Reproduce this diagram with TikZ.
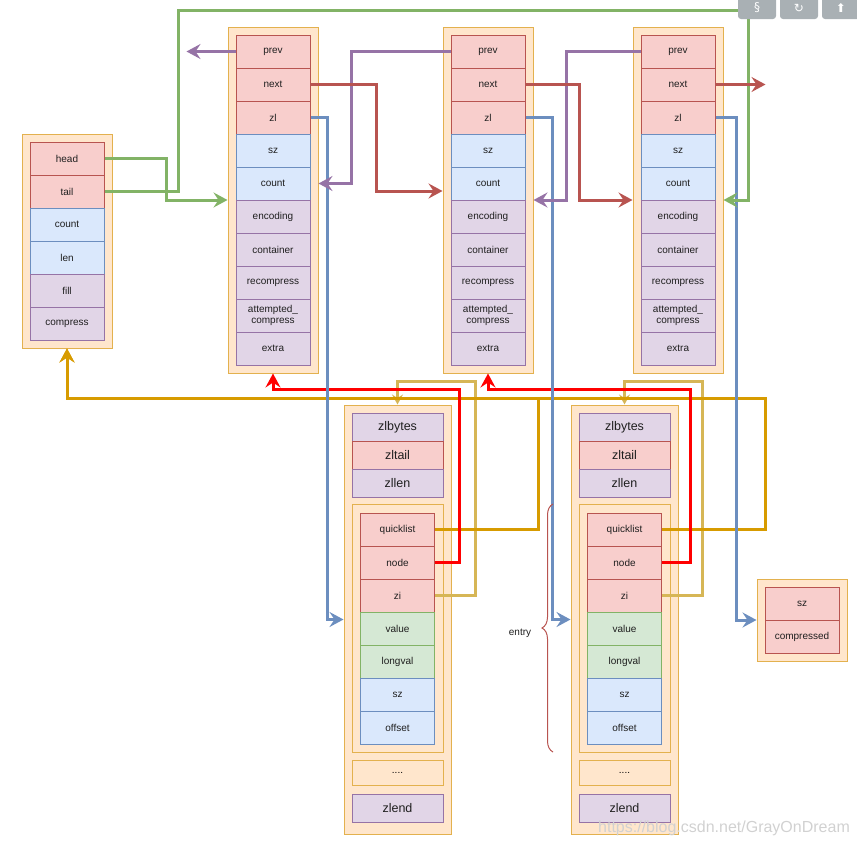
\documentclass[tikz,border=0pt]{standalone}
\usepackage{fontspec}
\setmainfont{Liberation Sans}
\newfontfamily\dejavu{DejaVu Sans}
\usetikzlibrary{arrows.meta,calc,decorations.pathreplacing}
\definecolor{pinkF}{HTML}{F8CECC}\definecolor{pinkS}{HTML}{B85450}
\definecolor{blueF}{HTML}{DAE8FC}\definecolor{blueS}{HTML}{6C8EBF}
\definecolor{purF}{HTML}{E1D5E7}\definecolor{purS}{HTML}{9673A6}
\definecolor{grnF}{HTML}{D5E8D4}\definecolor{grnS}{HTML}{82B366}
\definecolor{orF}{HTML}{FFE6CC}\definecolor{orS}{HTML}{E3B14E}
\definecolor{goldc}{HTML}{D79B00}\definecolor{lgold}{HTML}{D6B656}
\definecolor{redc}{HTML}{FF0000}\definecolor{uigray}{HTML}{A9B0B4}
\tikzset{
  cell/.style={draw, line width=1pt, minimum width=74pt, minimum height=33pt, inner sep=0pt,
    font=\fontsize{10}{11.5}\selectfont, align=center, text=black!88},
  bigcell/.style={cell, minimum width=91pt, minimum height=28pt, font=\fontsize{12.5}{14}\selectfont},
  outerbox/.style={draw=orS, fill=orF, line width=1pt, inner sep=0pt},
  conn/.style={line width=3pt, -{Stealth[length=14pt,width=15pt,inset=5pt]}},
  connsm/.style={line width=3pt, -{Stealth[length=10pt,width=11pt,inset=3.5pt]}},
  uibtn/.style={fill=uigray, rounded corners=3pt, minimum width=38pt, minimum height=30pt, inner sep=0pt},
  uitxt/.style={text=white, inner sep=0pt, font=\dejavu\fontsize{12}{12}\selectfont}
}
\begin{document}
\begin{tikzpicture}[x=1pt,y=-1pt]
\useasboundingbox (0,0) rectangle (857,846);
% quicklist
\node[outerbox, minimum width=90pt, minimum height=214pt] (q) at (67,241) {};
\foreach \k/\lab/\fc/\sc [count=\i from 0] in {head/head/pinkF/pinkS, tail/tail/pinkF/pinkS,
   count/count/blueF/blueS, len/len/blueF/blueS, fill/fill/purF/purS, compress/compress/purF/purS}
  \node[cell, fill=\fc, draw=\sc] (q-\k) at (67,158.5+33*\i) {\lab};
% quicklist nodes
\foreach \nm/\xc in {n1/273, n2/488, n3/678}{
  \node[outerbox, minimum width=90pt, minimum height=346pt] (\nm) at (\xc,200) {};
  \foreach \k/\lab/\fc/\sc [count=\i from 0] in {prev/prev/pinkF/pinkS, next/next/pinkF/pinkS,
     zl/zl/pinkF/pinkS, sz/sz/blueF/blueS, count/count/blueF/blueS, encoding/encoding/purF/purS,
     container/container/purF/purS, recompress/recompress/purF/purS,
     att/{attempted\_\\compress}/purF/purS, extra/extra/purF/purS}
    \node[cell, fill=\fc, draw=\sc] (\nm-\k) at (\xc,51.5+33*\i) {\lab};
}
% ziplists
\foreach \zn/\xc in {z1/397.5, z2/624.5}{
  \node[outerbox, minimum width=107pt, minimum height=429pt] (\zn) at (\xc,619.5) {};
  \node[bigcell, fill=purF, draw=purS] (\zn-zlbytes) at (\xc,427) {zlbytes};
  \node[bigcell, fill=pinkF, draw=pinkS] (\zn-zltail) at (\xc,455) {zltail};
  \node[bigcell, fill=purF, draw=purS] (\zn-zllen) at (\xc,483) {zllen};
  \node[outerbox, minimum width=91pt, minimum height=248pt] (\zn-entry) at (\xc,628) {};
  \foreach \k/\lab/\fc/\sc [count=\i from 0] in {ql/quicklist/pinkF/pinkS, node/node/pinkF/pinkS,
     zi/zi/pinkF/pinkS, value/value/grnF/grnS, longval/longval/grnF/grnS,
     sz/sz/blueF/blueS, offset/offset/blueF/blueS}
    \node[cell, fill=\fc, draw=\sc] (\zn-\k) at (\xc,529.5+33*\i) {\lab};
  \node[outerbox, minimum width=91pt, minimum height=25pt, font=\fontsize{10}{11}\selectfont] (\zn-dots) at (\xc,772.5) {....};
  \node[bigcell, fill=purF, draw=purS] (\zn-zlend) at (\xc,808) {zlend};
}
% compressed
\node[outerbox, minimum width=90pt, minimum height=82pt] (cb) at (802,620) {};
\node[cell, fill=pinkF, draw=pinkS] (cb-sz) at (802,603.5) {sz};
\node[cell, fill=pinkF, draw=pinkS] (cb-comp) at (802,636.5) {compressed};
% bends
\coordinate (gtop) at (748,10);
\coordinate (r1) at (459,389);
\coordinate (r2) at (690,389);
\coordinate (y1) at (538,398);
\coordinate (y2) at (765,398);
\coordinate (lg1) at (475,381);
\coordinate (lg2) at (702,381);
% light gold
\draw[connsm, lgold] (z1-zi.east) -| (lg1) -| (z1.north);
\draw[connsm, lgold] (z2-zi.east) -| (lg2) -| (z2.north);
% gold
\draw[conn, goldc] (z1-ql.east) -| (y1) -| (q.south);
\draw[conn, goldc] (z2-ql.east) -| (y2) -| (q.south);
% red
\draw[conn, redc] (z1-node.east) -| (r1) -| (n1.south);
\draw[conn, redc] (z2-node.east) -| (r2) -| (n2.south);
% blue
\draw[conn, blueS] (n1-zl.east) -- ++(17,0) |- (z1.west);
\draw[conn, blueS] (n2-zl.east) -- ++(27,0) |- (z2.west);
\draw[conn, blueS] (n3-zl.east) -- ++(21,0) |- (cb.west);
% green
\draw[conn, grnS] (q-head.east) -- ++(62,0) |- (n1.west);
\draw[conn, grnS] (q-tail.east) -- ++(74,0) |- (gtop) |- (n3.east);
% purple
\draw[conn, purS] (n1-prev.west) -- ++(-49,0);
\draw[conn, purS] (n2-prev.west) -- ++(-99,0) |- (n1.east |- n1-count);
\draw[conn, purS] (n3-prev.west) -- ++(-74,0) |- (n2.east);
% brown-red
\draw[conn, pinkS] (n1-next.east) -- ++(66,0) |- ($(n2.west)+(0,-9)$);
\draw[conn, pinkS] (n2-next.east) -- ++(54,0) |- (n3.west);
\draw[conn, pinkS] (n3-next.east) -- ++(50,0);
% brace
\draw[pinkS, line width=1pt, decorate, decoration={brace, amplitude=11pt}] (553,752) -- (553,504);
\node[font=\fontsize{10}{11}\selectfont, text=black!88] (entrylbl) at (520,633) {entry};
% watermark
\node[font=\fontsize{16}{16}\selectfont, text=black!18] (wm) at (724,828) {https://blog.csdn.net/GrayOnDream};
% ui buttons
\node[uibtn] (ui1) at (757,4) {};
\node[uibtn] (ui2) at (799,4) {};
\node[uibtn] (ui3) at (841,4) {};
\node[uitxt] (ui1t) at (757,8) {§};
\node[uitxt] (ui2t) at (799,8) {↻};
\node[uitxt] (ui3t) at (841,8) {⬆};
\end{tikzpicture}
\end{document}
